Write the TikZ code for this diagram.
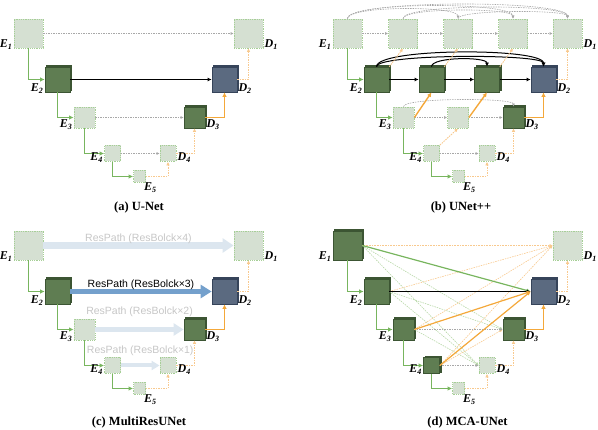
\documentclass[tikz,border=0pt]{standalone}
\usepackage{fontspec}
\setmainfont{Liberation Serif}
\newfontfamily\respathfont{Liberation Sans}
\usetikzlibrary{arrows.meta, shadows}

\definecolor{boxlight}{HTML}{D5E0D2}
\definecolor{boxdot}{HTML}{A6CF96}
\definecolor{greenfill}{HTML}{5F7D52}
\definecolor{greenedge}{HTML}{3C5533}
\definecolor{bluefill}{HTML}{5B6A80}
\definecolor{blueedge}{HTML}{36445A}
\definecolor{pathgreen}{HTML}{78B55E}
\definecolor{pathorange}{HTML}{F4A83A}
\definecolor{orangelight}{HTML}{F8C98E}
\definecolor{greenlight}{HTML}{B8D8A8}
\definecolor{skipgrey}{HTML}{A8A8A8}
\definecolor{resfaint}{HTML}{DCE6EF}
\definecolor{resstrong}{HTML}{74A0CC}
\definecolor{restext}{HTML}{C6C6C6}

\tikzset{
  lightbox/.style={draw=boxdot, fill=boxlight, densely dotted, line width=0.8pt, inner sep=0pt},
  darkbox/.style={draw=greenedge, fill=greenfill, line width=0.7pt, inner sep=0pt,
    copy shadow={shadow xshift=1.5pt, shadow yshift=1.5pt, fill=greenedge, draw=greenedge}},
  bluebox/.style={draw=blueedge, fill=bluefill, line width=0.7pt, inner sep=0pt,
    copy shadow={shadow xshift=1.5pt, shadow yshift=1.5pt, fill=blueedge, draw=blueedge}},
  elabel/.style={anchor=east, inner sep=1pt, yshift=4pt, font=\fontsize{12}{14}\selectfont\bfseries\itshape},
  dlabel/.style={elabel, anchor=west},
  caption/.style={font=\fontsize{12.5}{14}\selectfont\bfseries},
  downlink/.style={draw=pathgreen, line width=1.3pt, -{Latex[length=4.5pt,width=4.5pt]}},
  upsolid/.style={draw=pathorange, line width=1.4pt, -{Latex[length=4.5pt,width=4.5pt]}},
  updashed/.style={draw=orangelight, dash pattern=on 1.5pt off 1pt, line width=0.9pt, -{Latex[length=3.5pt,width=3.5pt]}},
  skiplink/.style={draw=skipgrey, dash pattern=on 1.5pt off 1pt, line width=0.6pt, -{Latex[length=3pt,width=3pt]}},
  blacklink/.style={draw=black, line width=1pt, -{Latex[length=4pt,width=4pt]}},
  crossgreen/.style={draw=greenlight, dash pattern=on 1.5pt off 1pt, line width=0.6pt, -{Latex[length=3pt,width=3pt]}},
  crossorange/.style={draw=orangelight, dash pattern=on 1.5pt off 1pt, line width=0.6pt, -{Latex[length=3pt,width=3pt]}},
  mainlink/.style={line width=1.2pt, -{Latex[length=4pt,width=4pt]}},
  respath/.style={draw=resfaint, line width=5pt, -{Triangle[length=10pt,width=12pt]}},
  reslabel/.style={font=\respathfont\fontsize{10.5}{12}\selectfont, text=restext, inner sep=0pt},
}

% encoder/decoder skeleton shared by all four panels
% #1 prefix, #2-#5 styles of E1..E4
\newcommand{\unetspine}[5]{%
  \node[#2, minimum size=29pt] (#1E1) at (28.5,-33.5) {};
  \node[#3, minimum size=25pt] (#1E2) at (57.5,-79.5) {};
  \node[#4, minimum size=21pt] (#1E3) at (84.5,-117.5) {};
  \node[#5, minimum size=16pt] (#1E4) at (112.5,-153.5) {};
  \node[lightbox, minimum size=12pt] (#1E5) at (139.5,-176.5) {};
  \node[lightbox, minimum size=29pt] (#1D1) at (248.5,-33.5) {};
  \node[bluebox, minimum size=25pt] (#1D2) at (224.5,-79.5) {};
  \node[darkbox, minimum size=21pt] (#1D3) at (194.5,-117.5) {};
  \node[lightbox, minimum size=16pt] (#1D4) at (168,-153.5) {};
  % down path
  \draw[downlink] (#1E1.south) |- (#1E2.west);
  \draw[downlink] (#1E2.south) |- (#1E3.west);
  \draw[downlink] (#1E3.south) |- (#1E4.west);
  \draw[downlink] (#1E4.south) |- (#1E5.west);
  % up path
  \draw[updashed] (#1E5.east) -| (#1D4.south);
  \draw[updashed] (#1D4.east) -| (#1D3.south);
  \draw[upsolid] (#1D3.east) -| (#1D2.south);
  \draw[updashed] (#1D2.east) -| (#1D1.south);
  % labels
  \node[elabel] (#1E1t) at (#1E1.south west) {E\textsubscript{1}};
  \node[elabel] (#1E2t) at (#1E2.south west) {E\textsubscript{2}};
  \node[elabel] (#1E3t) at (#1E3.south west) {E\textsubscript{3}};
  \node[elabel] (#1E4t) at (#1E4.south west) {E\textsubscript{4}};
  \node[elabel, anchor=north west, xshift=-3pt, yshift=-3pt] (#1E5t) at (#1E5.south east) {E\textsubscript{5}};
  \node[dlabel] (#1D1t) at (#1D1.south east) {D\textsubscript{1}};
  \node[dlabel] (#1D2t) at (#1D2.south east) {D\textsubscript{2}};
  \node[dlabel] (#1D3t) at (#1D3.south east) {D\textsubscript{3}};
  \node[dlabel] (#1D4t) at (#1D4.south east) {D\textsubscript{4}};
}

\begin{document}
\begin{tikzpicture}[x=1pt, y=1pt]
\useasboundingbox (0,0) rectangle (598,-430);

% (a) U-Net
\begin{scope}
  \unetspine{a}{lightbox}{darkbox}{lightbox}{lightbox}
  \draw[skiplink] (aE1) -- (aD1);
  \draw[blacklink] (aE2) -- (aD2);
  \draw[skiplink] (aE3) -- (aD3);
  \draw[skiplink] (aE4) -- (aD4);
  \node[caption] (capa) at (139,-207) {(a) U-Net};
\end{scope}

% (b) UNet++
\begin{scope}[shift={(319,0)}]
  \unetspine{b}{lightbox}{darkbox}{lightbox}{lightbox}
  \node[lightbox, minimum size=29pt] (bX01) at (84,-33.5) {};
  \node[lightbox, minimum size=29pt] (bX02) at (139,-33.5) {};
  \node[lightbox, minimum size=29pt] (bX03) at (194,-33.5) {};
  \node[darkbox, minimum size=25pt] (bX11) at (112.5,-79.5) {};
  \node[darkbox, minimum size=25pt] (bX12) at (168,-79.5) {};
  \node[lightbox, minimum size=21pt] (bX21) at (139,-117.5) {};
  % plain skips
  \foreach \s/\t in {E1/X01, X01/X02, X02/X03, X03/D1, E3/X21, X21/D3, E4/D4}
    \draw[skiplink] (b\s) -- (b\t);
  \foreach \s/\t in {E2/X11, X11/X12, X12/D2}
    \draw[blacklink] (b\s) -- (b\t);
  % dense skips
  \draw[skiplink] (bE1.north) .. controls +(0,19) and +(0,19) .. (bD1.north);
  \draw[skiplink] (bE1.north) .. controls +(0,17) and +(0,17) .. (bX03.north);
  \draw[skiplink] (bX01.north) .. controls +(0,15) and +(0,15) .. (bD1.north);
  \draw[skiplink] (bE1.north) .. controls +(0,13) and +(0,13) .. (bX02.north);
  \draw[skiplink] (bX01.north) .. controls +(0,11) and +(0,11) .. (bX03.north);
  \draw[skiplink] (bX02.north) .. controls +(0,9) and +(0,9) .. (bD1.north);
  \draw[blacklink] (bE2.north) .. controls +(0,19) and +(0,19) .. (bD2.north);
  \draw[blacklink] (bE2.north) .. controls +(0,13) and +(0,13) .. (bD2.north);
  \draw[blacklink] (bX11.north) .. controls +(0,10) and +(0,10) .. (bX12.north);
  \draw[skiplink] (bE3.north) .. controls +(0,9) and +(0,9) .. (bD3.north);
  % upsampling
  \draw[updashed] (bE2.north east) -- (bX01.south);
  \draw[updashed] (bX11.north east) -- (bX02.south);
  \draw[updashed] (bX12.north east) -- (bX03.south);
  \draw[upsolid] (bE3.east) -- (bX11.south);
  \draw[upsolid] (bX21.east) -- (bX12.south);
  \draw[updashed] (bE4.north east) -- (bX21.south);
  \node[caption] (capb) at (142,-207) {(b) UNet++};
\end{scope}

% (c) MultiResUNet
\begin{scope}[shift={(0,-212)}]
  \unetspine{c}{lightbox}{darkbox}{lightbox}{lightbox}
  \draw[respath, line width=6.5pt, -{Triangle[length=11pt,width=14pt]}] (cE1.east) -- node[reslabel, yshift=7pt] (cR4) {ResPath (ResBolck×4)} (cD1.west);
  \draw[respath, draw=resstrong, -{Triangle[length=11pt,width=13pt]}] (cE2.east) -- node[reslabel, text=black, yshift=7pt] (cR3) {ResPath (ResBolck×3)} (cD2.west);
  \draw[respath, line width=4.5pt] (cE3.east) -- node[reslabel, yshift=18pt] (cR2) {ResPath (ResBolck×2)} (cD3.west);
  \draw[respath, line width=4pt, -{Triangle[length=8pt,width=9pt]}] (cE4.east) -- node[reslabel, yshift=15pt] (cR1) {ResPath (ResBolck×1)} (cD4.west);
  \node[caption] (capc) at (139,-210) {(c) MultiResUNet};
\end{scope}

% (d) MCA-UNet
\begin{scope}[shift={(319,-212)}]
  \unetspine{d}{darkbox}{darkbox}{darkbox}{darkbox}
  % faint cross-scale links
  \foreach \s/\t in {E1/D3, E1/D4, E2/D3, E2/D4, E3/D4}
    \draw[crossgreen] (d\s.east) -- (d\t.west);
  \foreach \s in {E2, E3, E4}
    \draw[crossorange] (d\s.east) -- (dD1.west);
  \draw[crossorange] (dE4.east) -- (dD3.west);
  \draw[crossorange, densely dotted] (dE1.east) -- (dD1.west);
  \draw[skiplink] (dE3) -- (dD3);
  \draw[skiplink] (dE4) -- (dD4);
  % links into D2
  \draw[mainlink, draw=pathgreen] (dE1.east) -- (dD2.west);
  \draw[mainlink, draw=black] (dE2.east) -- (dD2.west);
  \draw[mainlink, draw=pathorange] (dE3.east) -- (dD2.west);
  \draw[mainlink, draw=pathorange] (dE4.east) -- (dD2.west);
  \node[caption] (capd) at (148.5,-210) {(d) MCA-UNet};
\end{scope}
\end{tikzpicture}
\end{document}
